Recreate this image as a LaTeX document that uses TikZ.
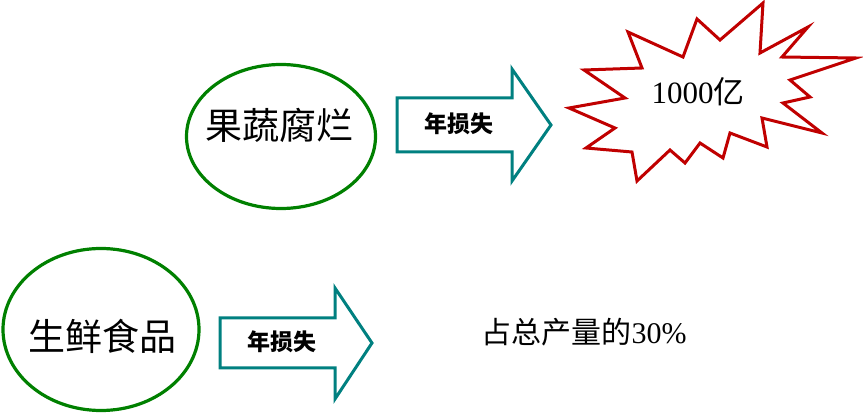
\documentclass[tikz,border=0pt]{standalone}
\usepackage{fontspec}
\setmainfont{Noto Sans CJK SC}
\newfontfamily\numfont{Liberation Serif}
\usetikzlibrary{shapes.geometric}
\definecolor{lossgreen}{RGB}{0,128,0}
\definecolor{lossteal}{RGB}{0,128,128}
\definecolor{lossred}{RGB}{192,0,0}

\begin{document}
\begin{tikzpicture}[x=1pt,y=-1pt,
  food/.style={draw=lossgreen, line width=3.2pt, ellipse, inner sep=0pt},
  foodtext/.style={font=\fontsize{37}{40}\selectfont},
  lossarrow/.style={draw=lossteal, line width=3pt, line join=miter, fill=white},
  losslabel/.style={font=\fontsize{23}{26}\selectfont\bfseries}]
\useasboundingbox (0,0) rectangle (863,414);
% Fruit and vegetables
\node[food, minimum width=189pt, minimum height=144pt] (fruit) at (281,136.5) {};
\node[foodtext] (fruittext) at (279,125) {果蔬腐烂};
\draw[lossarrow] (397,98) -- (512,98) -- (512,69) -- (551,125) -- (512,181)
  -- (512,152) -- (397,152) -- cycle;
\node[losslabel] (loss1) at (459,124) {年损失};
% Starburst
\draw[draw=lossred, line width=3pt, line join=miter, fill=white]
  (763,3) -- (760,53) -- (808,27) -- (782,57) -- (856,58) -- (790,80)
  -- (810,97) -- (783,103) -- (822,133) -- (762,118) -- (767,147)
  -- (730,133) -- (723,158) -- (700,143) -- (685,163) -- (670,150)
  -- (637,181) -- (632,152) -- (586,148) -- (615,128) -- (569,108)
  -- (625,98) -- (584,70) -- (642,68) -- (628,32) -- (683,57)
  -- (697,19) -- (720,40) -- cycle;
\node[font=\fontsize{31}{34}\selectfont] (amount) at (698,92) {{\numfont 1000}亿};
% Fresh food
\node[food, minimum width=196pt, minimum height=162pt] (fresh) at (101,329.5) {};
\node[foodtext] (freshtext) at (102,336) {生鲜食品};
\draw[lossarrow] (220,318) -- (335,318) -- (335,288) -- (372,343) -- (335,399)
  -- (335,368) -- (220,368) -- cycle;
\node[losslabel] (loss2) at (282,342) {年损失};
\node[font=\fontsize{30}{34}\selectfont] (share) at (584,332) {占总产量的{\numfont 30\%}};
\end{tikzpicture}
\end{document}
